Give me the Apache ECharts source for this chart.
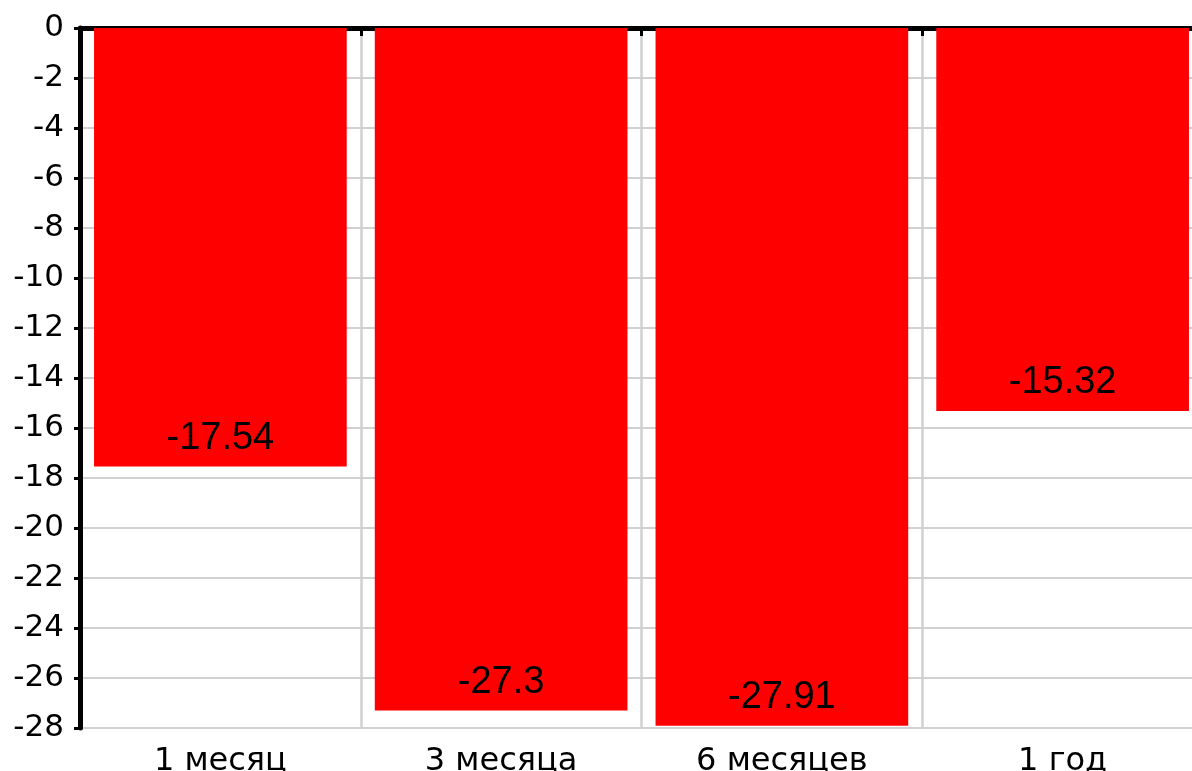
<!DOCTYPE html>
<html>
<head>
<meta charset="utf-8">
<script src="https://cdn.jsdelivr.net/npm/echarts@6/dist/echarts.min.js"></script>
<style>
  html, body { margin: 0; padding: 0; background: #fff; }
  #main { width: 1192px; height: 771px; }
</style>
</head>
<body>
<div id="main"></div>
<script>
// данные
const categories = ['1 месяц', '3 месяца', '6 месяцев', '1 год'];
const values = [-17.54, -27.3, -27.91, -15.32];
const yMin = -28;
const yMax = 0;
const yStep = 2;

let myChart = echarts.init(document.getElementById('main'));

let option = {
  backgroundColor: '#ffffff',
  animation: false,
  grid: { left: 80, top: 28, width: 1123, height: 700, outerBoundsMode: 'none', containLabel: false },
  xAxis: [
    {
      type: 'category',
      position: 'bottom',
      data: categories,
      axisLine: { show: false },
      axisTick: { show: false },
      axisLabel: {
        color: '#000',
        fontSize: 32,
        fontFamily: 'DejaVu Sans',
        margin: 18
      },
      splitLine: { show: true, lineStyle: { color: '#d0d0d0', width: 2.5 } }
    },
    {
      type: 'category',
      position: 'top',
      data: categories,
      axisLine: { show: true, onZero: false, lineStyle: { color: '#000', width: 5 } },
      axisTick: { show: true, inside: true, length: 8, lineStyle: { color: '#000', width: 3 } },
      axisLabel: { show: false },
      splitLine: { show: false }
    }
  ],
  yAxis: {
    type: 'value',
    min: yMin,
    max: yMax,
    interval: yStep,
    axisLine: { show: true, lineStyle: { color: '#000', width: 5 } },
    axisTick: { show: true, length: 6, lineStyle: { color: '#000', width: 3 } },
    axisLabel: {
      color: '#000',
      fontSize: 31,
      fontFamily: 'DejaVu Sans',
      margin: 16
    },
    splitLine: { show: true, lineStyle: { color: '#d0d0d0', width: 2 } }
  },
  series: [
    {
      type: 'bar',
      xAxisIndex: 0,
      data: values,
      barCategoryGap: '10%',
      itemStyle: { color: '#ff0000' },
      label: {
        show: true,
        position: 'insideBottom',
        distance: 9,
        color: '#000',
        fontSize: 38,
        fontFamily: 'Liberation Sans'
      }
    }
  ]
};
myChart.setOption(option);
</script>
</body>
</html>
